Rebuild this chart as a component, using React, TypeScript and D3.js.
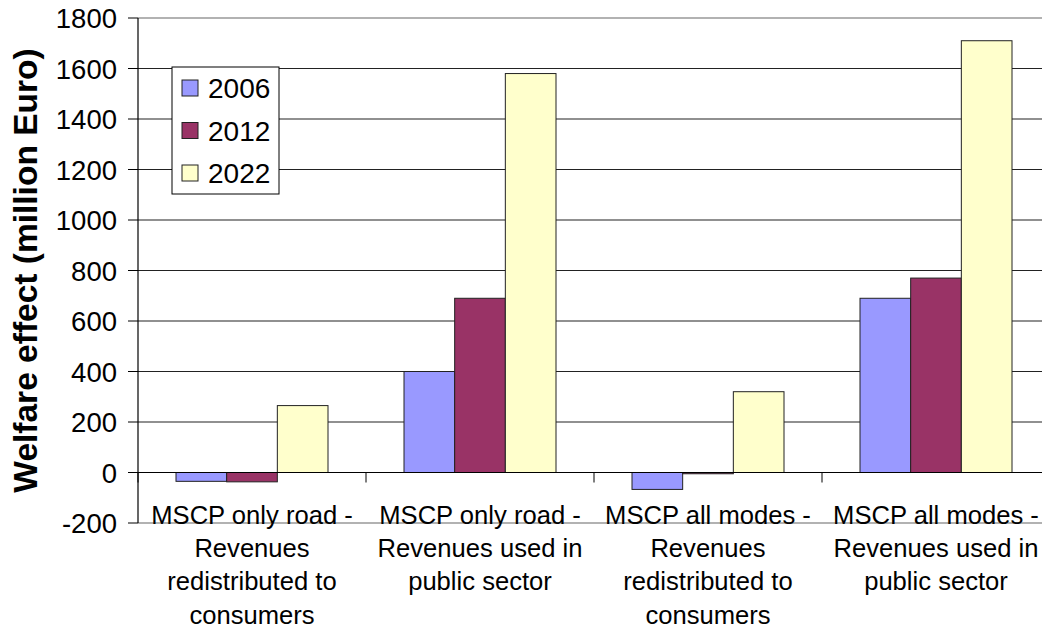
import React from "react";
import * as d3 from "d3";

const categories = [
  ["MSCP only road -", "Revenues", "redistributed to", "consumers"],
  ["MSCP only road -", "Revenues used in", "public sector"],
  ["MSCP all modes -", "Revenues", "redistributed to", "consumers"],
  ["MSCP all modes -", "Revenues used in", "public sector"],
];
const seriesNames = ["2006", "2012", "2022"];
const values2006 = [-35, 400, -67, 690];
const values2012 = [-37, 690, -5, 770];
const values2022 = [265, 1580, 320, 1710];
const colors = ["#9999FF", "#993366", "#FFFFCC"];
const yTicks = [-200, 0, 200, 400, 600, 800, 1000, 1200, 1400, 1600, 1800];

const W = 1042;
const H = 628;
const FONT = "'Liberation Sans', Arial, sans-serif";

export default function App() {
  const series = [values2006, values2012, values2022];
  const y = d3.scaleLinear().domain([-200, 1800]).range([523, 18]);
  const catIdx = categories.map((_, i) => String(i));
  const x = d3.scaleBand().domain(catIdx).range([138, 1050]).padding(0);
  const xi = d3
    .scaleBand()
    .domain(seriesNames)
    .range([0, x.bandwidth()])
    .paddingInner(0)
    .paddingOuter(0.75);
  const y0 = y(0);

  return (
    <svg
      width={W}
      height={H}
      style={{ position: "absolute", left: 0, top: 0, background: "#fff" }}
      fontFamily={FONT}
    >
      <rect x={0} y={0} width={W} height={H} fill="#fff" />
      {/* gridlines */}
      {yTicks.map((t) => {
        const edge = t === -200 || t === 1800;
        return (
          <line
            key={t}
            x1={138}
            x2={1050}
            y1={y(t)}
            y2={y(t)}
            stroke={edge ? "#999" : "#222"}
            strokeWidth={edge ? 1.5 : 1.2}
          />
        );
      })}
      {/* bars */}
      {series.map((vals, si) =>
        vals.map((v, ci) => {
          const bx = (x(String(ci)) as number) + (xi(seriesNames[si]) as number);
          const top = Math.min(y(v), y0);
          const h = Math.max(Math.abs(y(v) - y0), 1);
          return (
            <rect
              key={si + "-" + ci}
              x={bx}
              y={top}
              width={xi.bandwidth()}
              height={h}
              fill={colors[si]}
              stroke="#222"
              strokeWidth={1}
            />
          );
        })
      )}
      {/* x axis at zero */}
      <line x1={138} x2={1050} y1={y0} y2={y0} stroke="#000" strokeWidth={1.2} />
      {catIdx.map((c, i) =>
        i === 0 ? null : (
          <line
            key={"xt" + c}
            x1={x(c) as number}
            x2={x(c) as number}
            y1={y0}
            y2={y0 + 10}
            stroke="#000"
            strokeWidth={1}
          />
        )
      )}
      <line x1={138} x2={138} y1={y0} y2={y0 + 10} stroke="#000" strokeWidth={1} />
      {/* y axis */}
      <line x1={138} x2={138} y1={y(1800)} y2={y(-200)} stroke="#000" strokeWidth={1.2} />
      {yTicks.map((t) => (
        <g key={"yt" + t}>
          <line x1={128} x2={138} y1={y(t)} y2={y(t)} stroke="#000" strokeWidth={1} />
          <text x={117} y={y(t) + 10} textAnchor="end" fontSize={27.5} fill="#000">
            {t}
          </text>
        </g>
      ))}
      {/* category labels */}
      {categories.map((lines, ci) => {
        const cx = (x(String(ci)) as number) + x.bandwidth() / 2;
        return (
          <text key={"cl" + ci} textAnchor="middle" fontSize={25.6} fill="#000">
            {lines.map((ln, li) => (
              <tspan key={li} x={cx} y={524 + li * 33.2}>
                {ln}
              </tspan>
            ))}
          </text>
        );
      })}
      {/* y title */}
      <text
        transform={`translate(37, ${(y(1800) + y(-200)) / 2}) rotate(-90)`}
        textAnchor="middle"
        fontSize={33.5}
        fontWeight="bold"
        fill="#000"
      >
        Welfare effect (million Euro)
      </text>
      {/* legend */}
      <rect x={172} y={67} width={107} height={127} fill="#fff" stroke="#000" strokeWidth={1} />
      {seriesNames.map((s, i) => {
        const cy = 88 + i * 42.5;
        return (
          <g key={"lg" + s}>
            <rect x={182} y={cy - 8} width={16} height={16} fill={colors[i]} stroke="#222" strokeWidth={1} />
            <text x={208} y={cy + 10} fontSize={28} fill="#000">
              {s}
            </text>
          </g>
        );
      })}
    </svg>
  );
}
